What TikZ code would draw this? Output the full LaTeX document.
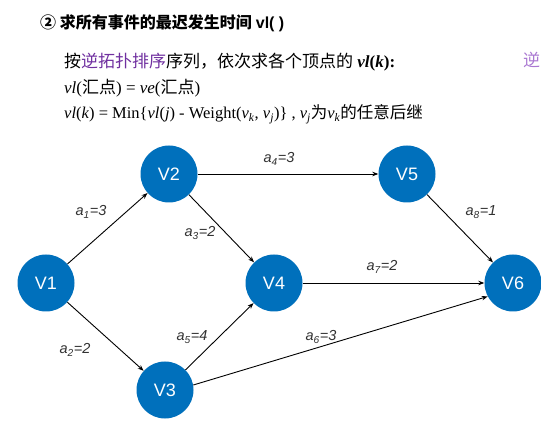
\documentclass[tikz,border=0pt]{standalone}
\usepackage{fontspec}
\setmainfont{Liberation Serif}
\newfontfamily\cjk{Noto Sans CJK SC}
\newfontfamily\hel{Liberation Sans}
\usetikzlibrary{arrows.meta}
\definecolor{nodeblue}{RGB}{0,112,188}
\definecolor{kwpurple}{RGB}{112,48,160}
\definecolor{lightpurple}{RGB}{170,120,210}
\definecolor{lblgray}{RGB}{50,50,50}
\begin{document}
\begin{tikzpicture}[x=1pt,y=-1pt,
  vert/.style={circle,fill=nodeblue,minimum size=57pt,inner sep=0pt,text=white,font=\hel\fontsize{18}{18}\selectfont},
  arc/.style={-{Stealth[length=6pt,width=4.5pt]},line width=0.9pt,black},
  lbl/.style={text=lblgray,font=\hel\itshape\fontsize{14.5}{15}\selectfont,inner sep=0pt},
  txt/.style={anchor=base west,inner sep=0pt,font=\fontsize{17}{18}\selectfont}]
\useasboundingbox (0,0) rectangle (541,446);
\fill[white] (0,0) rectangle (541,446);
% header text
\node[txt,font=\fontsize{16}{17}\selectfont] (title) at (40,29) {{\cjk\bfseries ② 求所有事件的最迟发生时间} {\hel\bfseries vl( )}};
\node[txt] (l2) at (64,68) {{\cjk 按}{\cjk\color{kwpurple}逆拓扑排序}{\cjk 序列，依次求各个顶点的} \textbf{\textit{vl}(\textit{k}):}};
\node[txt] (l3) at (64,94) {\textit{vl}({\cjk 汇点}) = \textit{ve}({\cjk 汇点})};
\node[txt,font=\fontsize{16.5}{18}\selectfont] (l4) at (64,119) {\textit{vl}(\textit{k}) = Min\{\textit{vl}(\textit{j}) - Weight(\textit{v}\textsubscript{\textit{k}}, \textit{v}\textsubscript{\textit{j}})\} , \textit{v}\textsubscript{\textit{j}}{\cjk 为}\textit{v}\textsubscript{\textit{k}}{\cjk 的任意后继}};
\node[txt,text=lightpurple] (rev) at (523,67) {\cjk 逆};
% vertices
\node[vert] (V1) at (46,283) {V1};
\node[vert] (V2) at (169,174) {V2};
\node[vert] (V3) at (165,390) {V3};
\node[vert] (V4) at (274,283) {V4};
\node[vert] (V5) at (407,174) {V5};
\node[vert] (V6) at (513,283) {V6};
% arcs
\draw[arc] (V1) -- (V2);
\draw[arc] (V1) -- (V3);
\draw[arc] (V2) -- (V4);
\draw[arc] (V2) -- (V5);
\draw[arc] (V3) -- (V4);
\draw[arc] (V3.10) -- (V6.208);
\draw[arc] (V4) -- (V6);
\draw[arc] (V5) -- (V6);
% labels
\node[lbl] (a1) at (91,212) {a\textsubscript{1}=3};
\node[lbl] (a2) at (75,350) {a\textsubscript{2}=2};
\node[lbl] (a3) at (200,233) {a\textsubscript{3}=2};
\node[lbl] (a4) at (279,159) {a\textsubscript{4}=3};
\node[lbl] (a5) at (192,337) {a\textsubscript{5}=4};
\node[lbl] (a6) at (321,337) {a\textsubscript{6}=3};
\node[lbl] (a7) at (382,267) {a\textsubscript{7}=2};
\node[lbl] (a8) at (481,212) {a\textsubscript{8}=1};
\end{tikzpicture}
\end{document}
